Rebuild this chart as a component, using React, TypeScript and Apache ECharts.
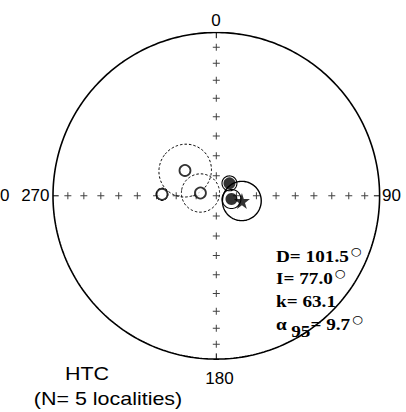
import React, { useEffect, useRef } from "react";
import * as echarts from "echarts";

const RAD = Math.PI / 180;

// Locality mean directions (declination, inclination; negative inclination = upper hemisphere)
const localityDec = [271.6, 309.0, 280.0, 46.6, 101.9];
const localityInc = [-62.8, -69.9, -82.0, 81.0, 82.3];
const localityA95 = [3.0, 13.1, 9.5, 3.7, 4.7];

// Overall mean
const meanDec = 101.5;
const meanInc = 77.0;
const meanK = 63.1;
const meanA95 = 9.7;

// Stereonet frame
const tickIncs = [90, 80, 70, 60, 50, 40, 30, 20, 10];
const tickAzimuths = [0, 90, 180, 270];
const rimLabels = ["0", "90", "180", "270"];
const titleLines = ["HTC", "(N= 5 localities)"];

// Equal-area (Schmidt) projection, unit primitive
function project(dec: number, inc: number): [number, number] {
  const r = Math.SQRT2 * Math.sin(((90 - Math.abs(inc)) / 2) * RAD);
  return [r * Math.sin(dec * RAD), r * Math.cos(dec * RAD)];
}

function smallCircle(dec: number, inc: number, a95: number, n = 120): [number, number][] {
  const D = dec * RAD, I = inc * RAD, a = a95 * RAD;
  const v = [Math.cos(I) * Math.cos(D), Math.cos(I) * Math.sin(D), Math.sin(I)];
  const u = [-Math.sin(I) * Math.cos(D), -Math.sin(I) * Math.sin(D), Math.cos(I)];
  const w = [-Math.sin(D), Math.cos(D), 0];
  const pts: [number, number][] = [];
  for (let i = 0; i <= n; i++) {
    const t = (i / n) * 2 * Math.PI;
    const p = [0, 1, 2].map(
      (k) => Math.cos(a) * v[k] + Math.sin(a) * (Math.cos(t) * u[k] + Math.sin(t) * w[k])
    );
    const pi = Math.asin(Math.max(-1, Math.min(1, p[2]))) / RAD;
    const pd = Math.atan2(p[1], p[0]) / RAD;
    pts.push(project(pd, pi));
  }
  return pts;
}

const PLUS = "path://M3,0h1v7h-1zM0,3h7v1h-7z";
const STAR =
  "path://M50,0L61.2,34.5L97.6,34.5L68.2,55.9L79.4,90.5L50,69.1L20.6,90.5L31.8,55.9L2.4,34.5L38.8,34.5Z";

const SANS = "Liberation Sans, Arial, Helvetica, sans-serif";
const SERIF = "Liberation Serif, Times New Roman, serif";

export default function App() {
  const ref = useRef<HTMLDivElement>(null);

  useEffect(() => {
    if (!ref.current) return;
    const chart = echarts.init(ref.current, undefined, { renderer: "svg" });

    const primitive: [number, number][] = [];
    for (let az = 0; az <= 360; az += 1) primitive.push(project(az, 0));

    const crosses: [number, number][] = [];
    tickIncs.forEach((inc) => {
      if (inc === 90) crosses.push(project(0, 90));
      else tickAzimuths.forEach((az) => crosses.push(project(az, inc)));
    });

    const edgeTickSeries = tickAzimuths.map((az) => {
      const p = project(az, 0);
      return {
        type: "line",
        data: [p, [p[0] * 0.965, p[1] * 0.965]],
        symbol: "none",
        silent: true,
        lineStyle: { color: "#000", width: 1 },
        z: 2,
      };
    });

    const circleSeries = localityDec.map((d, i) => ({
      type: "line",
      data: smallCircle(d, localityInc[i], localityA95[i]),
      symbol: "none",
      silent: true,
      lineStyle: {
        color: "#000",
        width: localityInc[i] < 0 ? 1 : 1.1,
        type: localityInc[i] < 0 ? [2.5, 2] : "solid",
      },
      z: 3,
    }));

    const upperPts = localityDec
      .map((d, i) => ({ d, inc: localityInc[i] }))
      .filter((p) => p.inc < 0)
      .map((p) => project(p.d, p.inc));
    const lowerPts = localityDec
      .map((d, i) => ({ d, inc: localityInc[i] }))
      .filter((p) => p.inc >= 0)
      .map((p) => project(p.d, p.inc));

    const degStyle = {
      fontFamily: "DejaVu Sans, sans-serif",
      fontSize: 11,
      fontWeight: "normal",
      fill: "#000",
      padding: [0, 0, 10, 2],
    };
    const bStyle = {
      fontFamily: SERIF,
      fontWeight: "bold",
      fontSize: 17,
      lineHeight: 19,
      fill: "#000",
    };

    const statTexts = [
      { text: `{b|D= ${meanDec.toFixed(1)}}{d|○}`, y: 256 },
      { text: `{b|I= ${meanInc.toFixed(1)}}{d|○}`, y: 278.5 },
      { text: `{b|k= ${meanK.toFixed(1)}}`, y: 301 },
      { text: `{b|α}{s|95}{b|= ${meanA95.toFixed(1)}}{d|○}`, y: 324 },
    ];

    const labelPos = [
      { x: 216, y: 20.5, align: "center" },
      { x: 382, y: 195, align: "left" },
      { x: 219.5, y: 378.5, align: "center" },
      { x: 49.5, y: 195, align: "right" },
    ];

    const graphics: any[] = [];
    rimLabels.forEach((t, i) => {
      graphics.push({
        type: "text",
        x: labelPos[i].x,
        y: labelPos[i].y,
        silent: true,
        style: {
          text: t,
          fontFamily: SANS,
          fontSize: 17,
          fill: "#000",
          align: labelPos[i].align,
          verticalAlign: "middle",
        },
      });
    });
    // neighbouring panel's label remnant at the left edge
    graphics.push({
      type: "text",
      x: 0,
      y: 195,
      silent: true,
      style: {
        text: "0",
        fontFamily: SANS,
        fontSize: 17,
        fill: "#000",
        align: "left",
        verticalAlign: "middle",
      },
    });
    titleLines.forEach((t, i) => {
      graphics.push({
        type: "text",
        x: i === 0 ? 87 : 108,
        y: i === 0 ? 373 : 398.5,
        scaleX: 1.13,
        silent: true,
        style: {
          text: t,
          fontFamily: SANS,
          fontSize: 19,
          fill: "#000",
          align: "center",
          verticalAlign: "middle",
        },
      });
    });
    statTexts.forEach((s) => {
      graphics.push({
        type: "text",
        x: 276,
        y: s.y,
        scaleX: 1.13,
        silent: true,
        style: {
          text: s.text,
          align: "left",
          verticalAlign: "middle",
          rich: {
            b: bStyle,
            d: degStyle,
            s: { ...bStyle, padding: [14, 0, 0, 4] },
          },
        },
      });
    });

    chart.setOption({
      animation: false,
      backgroundColor: "#fff",
      grid: { left: 53, top: 32.5, width: 326.6, height: 326.6 },
      xAxis: { type: "value", min: -1, max: 1, show: false },
      yAxis: { type: "value", min: -1, max: 1, show: false },
      graphic: graphics,
      series: [
        {
          type: "line",
          data: primitive,
          symbol: "none",
          silent: true,
          lineStyle: { color: "#000", width: 1.6 },
          z: 2,
        },
        ...edgeTickSeries,
        {
          type: "scatter",
          data: crosses,
          symbol: PLUS,
          symbolSize: 7,
          silent: true,
          itemStyle: { color: "#111" },
          z: 2,
        },
        ...circleSeries,
        {
          type: "line",
          data: smallCircle(meanDec, meanInc, meanA95),
          symbol: "none",
          silent: true,
          lineStyle: { color: "#000", width: 1.4 },
          z: 3,
        },
        {
          type: "scatter",
          data: upperPts,
          symbol: "circle",
          symbolSize: 11,
          silent: true,
          itemStyle: { color: "#fff", borderColor: "#000", borderWidth: 1.8 },
          z: 4,
        },
        {
          type: "scatter",
          data: lowerPts,
          symbol: "circle",
          symbolSize: 12,
          silent: true,
          itemStyle: { color: "#000" },
          z: 4,
        },
        {
          type: "scatter",
          data: [project(meanDec, meanInc)],
          symbol: STAR,
          symbolSize: 16,
          silent: true,
          itemStyle: { color: "#000" },
          z: 5,
        },
      ],
    });

    return () => chart.dispose();
  }, []);

  return (
    <div
      ref={ref}
      style={{ position: "fixed", left: 0, top: 0, width: 406, height: 412, background: "#fff" }}
    />
  );
}
